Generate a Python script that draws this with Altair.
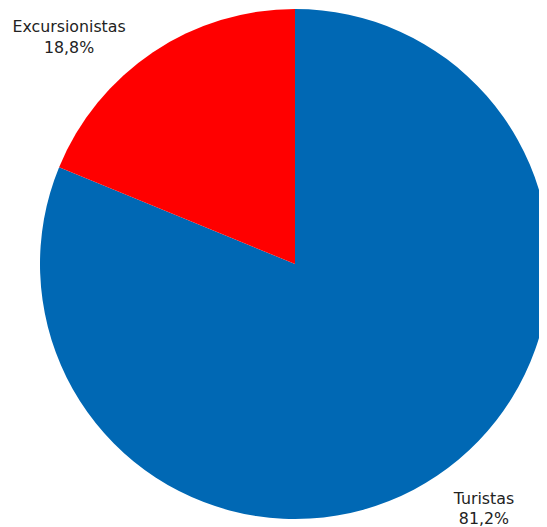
import altair as alt
import pandas as pd
import math

categories = ["Turistas", "Excursionistas"]
values = [81.2, 18.8]
labels = ["81,2%", "18,8%"]
colors = ["#0068b4", "#ff0000"]

df = pd.DataFrame({
    "cat": categories,
    "val": values,
    "order": [0, 1],
    "label": [f"{c}\n{l}" for c, l in zip(categories, labels)],
})

CX, CY = 287, 256
theta_scale = alt.Scale(domain=[0, 100], range=[0, 2 * math.pi])

base = alt.Chart(df).transform_window(
    cum="sum(val)", sort=[alt.SortField("order")]
).transform_calculate(
    start="datum.cum - datum.val", mid="datum.cum - datum.val / 2"
)

pie = base.mark_arc(radius=255, stroke=None).encode(
    theta=alt.Theta("start:Q", scale=theta_scale),
    theta2="cum:Q",
    color=alt.Color("cat:N", scale=alt.Scale(domain=categories, range=colors), legend=None),
    x=alt.value(CX), y=alt.value(CY),
)

def lbl(cat, dx, dy):
    return base.transform_filter(alt.datum.cat == cat).mark_text(
        radius=280, dx=dx, dy=dy, lineBreak="\n", lineHeight=20.5,
        font="DejaVu Sans", fontSize=15.8, color="#222222",
        align="center", baseline="middle",
    ).encode(
        theta=alt.Theta("mid:Q", scale=theta_scale),
        text="label:N",
        x=alt.value(CX), y=alt.value(CY),
    )

chart = alt.layer(
    pie,
    lbl("Excursionistas", -70, -4),
    lbl("Turistas", 33, 2),
).properties(
    width=531, height=519, padding=0, autosize=alt.AutoSizeParams(type="none")
).configure_view(stroke=None)

chart.save("out.html", embed_options={"renderer": "svg", "actions": False})
